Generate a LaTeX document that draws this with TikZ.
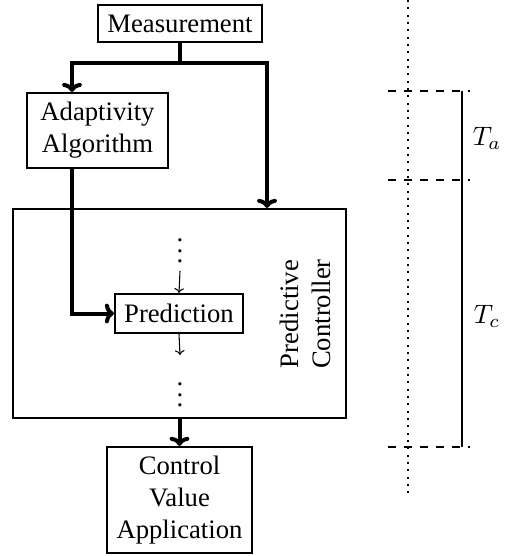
\documentclass[tikz,border=0pt]{standalone}
\usepackage{fontspec}
\setmainfont{Liberation Serif}
\usetikzlibrary{arrows.meta}
\begin{document}
\begin{tikzpicture}[x=0.375pt,y=-0.375pt,
  box/.style={draw,line width=0.8pt,inner sep=0pt,align=center},
  flow/.style={line width=1.5pt,-{To[length=3.4pt,width=7.4pt]}},
  thinflow/.style={line width=0.4pt,-{To[length=1.8pt,width=3.6pt]}},
  guide/.style={line width=0.4pt,dashed},
  timeline/.style={line width=0.8pt,dash pattern=on 0.8pt off 1.95pt}]
\useasboundingbox (0,0) rectangle (515,556);
% boxes
\node[box,minimum width=61.5pt,minimum height=13.9pt] (meas) at (180,23.5) {Measurement};
\node[box,minimum width=52.9pt,minimum height=28.1pt] (adapt) at (97.5,130.5) {Adaptivity\\Algorithm};
\node[box,minimum width=124.9pt,minimum height=78.4pt] (ctrl) at (179.5,313.5) {};
\node[box,minimum width=48pt,minimum height=14.6pt] (pred) at (179,313.5) {Prediction};
\node[box,minimum width=54.4pt,minimum height=39.8pt] (cva) at (179.5,500) {Control\\Value\\Application};
\node[rotate=90,align=center,inner sep=0pt] (ctrllabel) at (305,314) {Predictive\\Controller};
% dots inside controller
\node[inner sep=0pt] (dtop) at (180,243) {$\vdots$};
\node[inner sep=0pt] (dbot) at (180,387) {$\vdots$};
\coordinate (pin) at (180,271);
\coordinate (pout) at (180,355);
\draw[thinflow] (pin) -- (pred.north);
\draw[thinflow] (pred.south) -- (pout);
% thick connectors
\coordinate (split) at (180,63);
\coordinate (ain) at (72,0);
\coordinate (cin) at (267,0);
\draw[line width=1.5pt] (meas.south) -- (split);
\draw[flow] (split) -| (adapt.north -| ain);
\draw[flow] (split) -| (ctrl.north -| cin);
\draw[flow] (adapt.south -| ain) |- (pred.west);
\draw[flow] (ctrl.south) -- (cva.north);
% time axis
\coordinate (tl0) at (408,0);
\coordinate (tl1) at (408,495);
\draw[timeline] (tl0) -- (tl1);
\coordinate (d1l) at (388,91);
\coordinate (d1r) at (470,91);
\coordinate (d2l) at (388,180);
\coordinate (d2r) at (470,180);
\coordinate (d3l) at (388,447);
\coordinate (d3r) at (470,447);
\draw[guide] (d1l) -- (d1r);
\draw[guide] (d2l) -- (d2r);
\draw[guide] (d3l) -- (d3r);
\coordinate (b1) at (462,91);
\coordinate (b3) at (462,447);
\draw[line width=0.4pt] (b1) -- (b3);
\node (ta) at (487,138) {$T_a$};
\node (tc) at (487,316) {$T_c$};
\end{tikzpicture}
\end{document}
